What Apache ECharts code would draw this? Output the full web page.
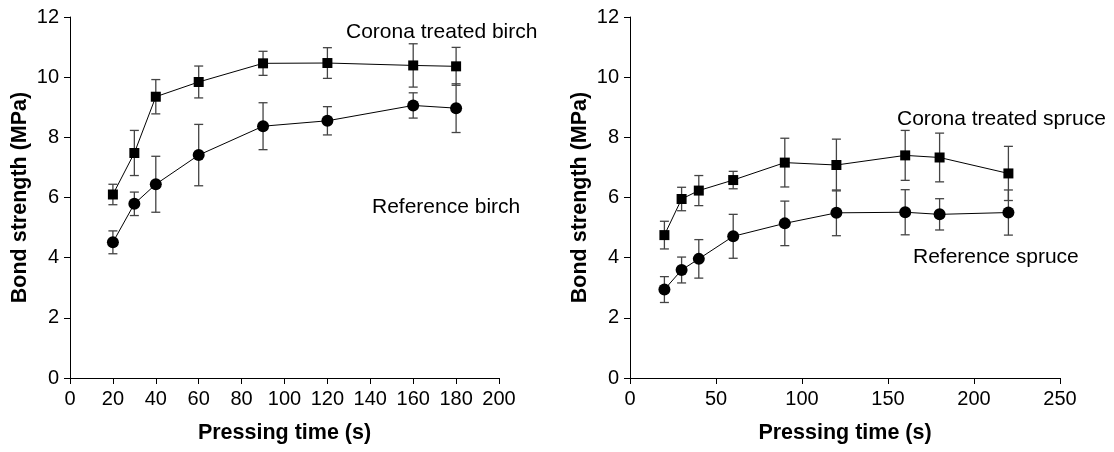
<!DOCTYPE html>
<html>
<head>
<meta charset="utf-8">
<script src="https://cdn.jsdelivr.net/npm/echarts@6/dist/echarts.min.js"></script>
<style>
  html, body { margin: 0; padding: 0; background: #fff; }
  #chart { width: 1114px; height: 452px; }
</style>
</head>
<body>
<div id="chart"></div>
<script>
// pressing times (s)
const birchTime = [20, 30, 40, 60, 90, 120, 160, 180];
const spruceTime = [20, 30, 40, 60, 90, 120, 160, 180, 220];

// bond strength (MPa), means and standard deviations
const birchCorona = [6.10, 7.48, 9.35, 9.84, 10.46, 10.47, 10.39, 10.36];
const birchCoronaSd = [0.34, 0.75, 0.57, 0.53, 0.40, 0.51, 0.72, 0.63];
const birchRef = [4.51, 5.79, 6.44, 7.41, 8.37, 8.55, 9.06, 8.97];
const birchRefSd = [0.38, 0.39, 0.93, 1.02, 0.78, 0.47, 0.42, 0.81];

const spruceCorona = [4.75, 5.95, 6.23, 6.58, 7.16, 7.08, 7.40, 7.33, 6.80];
const spruceCoronaSd = [0.46, 0.39, 0.50, 0.29, 0.81, 0.86, 0.83, 0.81, 0.90];
const spruceRef = [2.94, 3.59, 3.96, 4.71, 5.14, 5.49, 5.51, 5.44, 5.50];
const spruceRefSd = [0.43, 0.43, 0.64, 0.73, 0.74, 0.76, 0.75, 0.52, 0.75];

const FONT = '"Liberation Sans", Arial, sans-serif';

const pairs = (xs, ys) => xs.map((x, i) => [x, ys[i]]);
const errs = (xs, ys, sd) => xs.map((x, i) => [x, ys[i] - sd[i], ys[i] + sd[i]]);

function errorBars(params, api) {
  const x = api.value(0);
  const lo = api.coord([x, api.value(1)]);
  const hi = api.coord([x, api.value(2)]);
  const w = 4.5;
  const style = { stroke: '#444', lineWidth: 1.3 };
  return {
    type: 'group',
    children: [
      { type: 'line', shape: { x1: lo[0], y1: lo[1], x2: hi[0], y2: hi[1] }, style },
      { type: 'line', shape: { x1: hi[0] - w, y1: hi[1], x2: hi[0] + w, y2: hi[1] }, style },
      { type: 'line', shape: { x1: lo[0] - w, y1: lo[1], x2: lo[0] + w, y2: lo[1] }, style }
    ]
  };
}

function xAxis(idx, max, interval) {
  return {
    gridIndex: idx, type: 'value', min: 0, max: max, interval: interval,
    name: 'Pressing time (s)', nameLocation: 'middle', nameGap: 44,
    nameTextStyle: { fontFamily: FONT, fontWeight: 'bold', fontSize: 21.5, color: '#000' },
    axisLine: { onZero: false, lineStyle: { color: '#000', width: 1 } },
    axisTick: { show: true, length: 6, lineStyle: { color: '#000' } },
    axisLabel: { fontFamily: FONT, fontSize: 20, color: '#000', margin: 11 },
    splitLine: { show: false }
  };
}

function yAxis(idx) {
  return {
    gridIndex: idx, type: 'value', min: 0, max: 12, interval: 2,
    name: 'Bond strength (MPa)', nameLocation: 'middle', nameGap: 39,
    nameTextStyle: { fontFamily: FONT, fontWeight: 'bold', fontSize: 21.5, color: '#000' },
    axisLine: { show: true, lineStyle: { color: '#000', width: 1 } },
    axisTick: { show: true, length: 6, lineStyle: { color: '#000' } },
    axisLabel: { fontFamily: FONT, fontSize: 20, color: '#000', margin: 11 },
    splitLine: { show: false }
  };
}

function lineSeries(idx, xs, ys, symbol, size) {
  return {
    type: 'line', xAxisIndex: idx, yAxisIndex: idx,
    data: pairs(xs, ys), symbol: symbol, symbolSize: size,
    itemStyle: { color: '#000' },
    lineStyle: { color: '#000', width: 1 },
    z: 3, animation: false
  };
}

function errSeries(idx, xs, ys, sd) {
  return {
    type: 'custom', xAxisIndex: idx, yAxisIndex: idx,
    data: errs(xs, ys, sd), renderItem: errorBars,
    encode: { x: 0, y: [1, 2] }, z: 2, animation: false
  };
}

const labelFont = '21px ' + FONT;

const chart = echarts.init(document.getElementById('chart'));
chart.setOption({
  backgroundColor: '#fff',
  animation: false,
  grid: [
    { left: 70, top: 17, width: 429, height: 361 },
    { left: 630, top: 17, width: 430, height: 361 }
  ],
  xAxis: [xAxis(0, 200, 20), xAxis(1, 250, 50)],
  yAxis: [yAxis(0), yAxis(1)],
  graphic: [
    { type: 'text', left: 346, top: 22, style: { text: 'Corona treated birch', font: labelFont, fill: '#000' } },
    { type: 'text', left: 372, top: 197, style: { text: 'Reference birch', font: labelFont, fill: '#000' } },
    { type: 'text', left: 897, top: 109, style: { text: 'Corona treated spruce', font: labelFont, fill: '#000' } },
    { type: 'text', left: 913, top: 247, style: { text: 'Reference spruce', font: labelFont, fill: '#000' } }
  ],
  series: [
    errSeries(0, birchTime, birchCorona, birchCoronaSd),
    errSeries(0, birchTime, birchRef, birchRefSd),
    lineSeries(0, birchTime, birchCorona, 'rect', 10),
    lineSeries(0, birchTime, birchRef, 'circle', 12),
    errSeries(1, spruceTime, spruceCorona, spruceCoronaSd),
    errSeries(1, spruceTime, spruceRef, spruceRefSd),
    lineSeries(1, spruceTime, spruceCorona, 'rect', 10),
    lineSeries(1, spruceTime, spruceRef, 'circle', 12)
  ]
});
</script>
</body>
</html>
